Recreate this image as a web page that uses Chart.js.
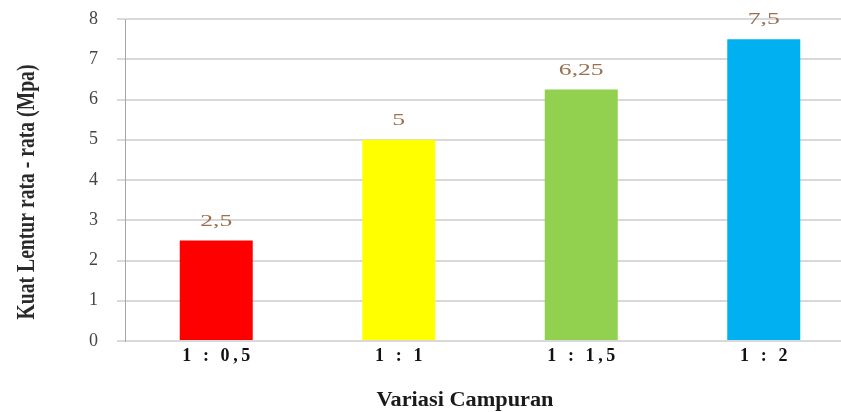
<!DOCTYPE html>
<html>
<head>
<meta charset="utf-8">
<script src="https://cdn.jsdelivr.net/npm/chart.js@4/dist/chart.umd.min.js"></script>
<style>
  html, body { margin: 0; padding: 0; background: #fff; overflow: hidden; }
  #wrap { position: relative; width: 856px; height: 412px; }
</style>
</head>
<body>
<div id="wrap"><canvas id="c"></canvas></div>
<script>
const categories = ['1 : 0,5', '1 : 1', '1 : 1,5', '1 : 2'];
const values = [2.5, 5, 6.25, 7.5];
const barColors = ['#FF0000', '#FFFF00', '#92D050', '#00B0F0'];
const yMin = 0;
const yMax = 8;
const yStep = 1;
const yTitle = 'Kuat Lentur rata - rata (Mpa)';
const xTitle = 'Variasi Campuran';

function stretchedText(ctx, text, x, y, font, color, targetWidth, rotate) {
  ctx.save();
  ctx.font = font;
  ctx.fillStyle = color;
  ctx.textAlign = 'center';
  ctx.textBaseline = 'middle';
  const w = ctx.measureText(text).width;
  ctx.translate(x, y);
  if (rotate) ctx.rotate(-Math.PI / 2);
  ctx.scale(targetWidth / w, 1);
  ctx.fillText(text, 0, 0);
  ctx.restore();
}

const decorPlugin = {
  id: 'decor',
  afterDatasetsDraw(chart) {
    const ctx = chart.ctx;
    const meta = chart.getDatasetMeta(0);
    meta.data.forEach((bar, i) => {
      const txt = String(values[i]).replace('.', ',');
      ctx.save();
      ctx.font = '16px "Liberation Serif"';
      const w = ctx.measureText(txt).width;
      ctx.restore();
      stretchedText(ctx, txt, bar.x, bar.y - 19, '16px "Liberation Serif"', '#9A7050', w * 1.6, false);
    });
  },
  afterDraw(chart) {
    const ctx = chart.ctx;
    const ya = chart.scales.y;
    stretchedText(ctx, yTitle, 27, (ya.top + ya.bottom) / 2 + 12, 'bold 26px "Liberation Serif"', '#2a2a2a', 255, true);
    stretchedText(ctx, xTitle, 465, 401, 'bold 20px "Liberation Serif"', '#1a1a1a', 177, false);
  }
};

new Chart(document.getElementById('c'), {
  type: 'bar',
  data: {
    labels: categories,
    datasets: [{
      data: values,
      backgroundColor: barColors,
      borderWidth: 0,
      barPercentage: 0.4,
      categoryPercentage: 1.0
    }]
  },
  options: {
    responsive: true,
    maintainAspectRatio: false,
    animation: false,
    devicePixelRatio: 1,
    layout: { padding: { top: 19, right: 1, left: 0, bottom: 0 } },
    plugins: { legend: { display: false }, tooltip: { enabled: false } },
    scales: {
      x: {
        grid: { display: false, drawTicks: false },
        border: { display: false },
        ticks: {
          padding: 5,
          color: '#111111',
          font: { family: '"Liberation Serif"', size: 18, weight: 'bold' },
          callback: function (v, i) { return categories[i].split('').join('\u2009'); }
        },
        afterFit: function (s) { s.height = 71; }
      },
      y: {
        min: yMin,
        max: yMax,
        ticks: {
          stepSize: yStep,
          padding: 19,
          color: '#444444',
          font: { family: '"Liberation Serif"', size: 18 }
        },
        grid: { color: '#d9d9d9', lineWidth: 2, tickLength: 8, tickColor: '#d9d9d9' },
        border: { display: true, color: '#a6a6a6', width: 1 },
        afterFit: function (s) { s.width = 125; s.paddingTop = 0; s.paddingBottom = 0; }
      }
    }
  },
  plugins: [decorPlugin]
});
</script>
</body>
</html>
